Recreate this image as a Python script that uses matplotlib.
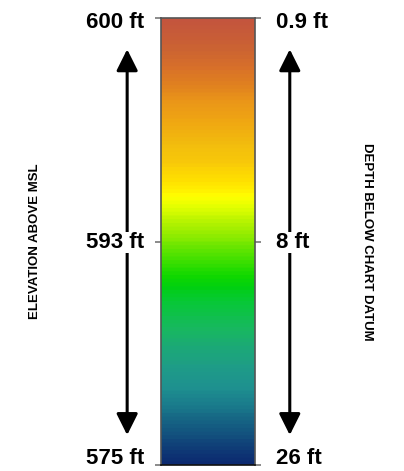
import numpy as np
import matplotlib.pyplot as plt
from matplotlib.colors import LinearSegmentedColormap, ListedColormap

plt.rcParams['font.family'] = ['Liberation Sans', 'DejaVu Sans']
plt.rcParams['font.weight'] = 'bold'

# labels on each side of the scale (bottom, middle, top)
tick_pos = [0.0, 0.5, 1.0]
elevation_labels = ["575 ft", "593 ft", "600 ft"]
depth_labels = ["26 ft", "8 ft", "0.9 ft"]
label_shift = [7, -1, -4]  # vertical nudge of the labels, pixels

# colour stops of the scale, bottom -> top
stop_pos = [0.000, 0.018, 0.056, 0.094, 0.130, 0.168, 0.213, 0.257,
            0.302, 0.362, 0.398, 0.421, 0.459, 0.497, 0.532, 0.577,
            0.600, 0.638, 0.682, 0.723, 0.767, 0.812, 0.857, 0.895,
            0.933, 1.000]
stop_col = ["#0c2a70", "#0e3474", "#124c7c", "#166484", "#1a7c8c",
            "#1e9090", "#1f9c88", "#1ca878", "#18b860", "#08c838",
            "#00d010", "#10d800", "#40e000", "#78e800", "#a8f000",
            "#e0ff00", "#ffff00", "#ffe000", "#f8c80a", "#f2bc0e",
            "#f0a812", "#eb9818", "#e08020", "#d8702a", "#cc6432",
            "#c4553e"]

smooth = LinearSegmentedColormap.from_list("scale", list(zip(stop_pos, stop_col)))
cmap = ListedColormap(smooth(np.linspace(0, 1, 120)))

W, H = 404, 471
fig = plt.figure(figsize=(W / 100, H / 100), dpi=100)
ax = fig.add_axes([161 / W, 6 / H, 94 / W, 447 / H])

grad = np.linspace(0, 1, 600).reshape(-1, 1)
ax.imshow(grad, cmap=cmap, aspect='auto', origin='lower',
          extent=[0, 1, 0, 1], zorder=0)
ax.set_xlim(0, 1)
ax.set_ylim(0, 1)
ax.set_xticks([])

for s in ['left', 'right', 'top']:
    ax.spines[s].set_color('#555555')
    ax.spines[s].set_linewidth(1.2)
ax.spines['bottom'].set_color('#111111')
ax.spines['bottom'].set_linewidth(1.2)

ax.set_yticks(tick_pos)
ax.tick_params(axis='y', left=True, right=True, labelleft=False,
               length=4.5, width=1.2, color='#777777')

box = dict(facecolor='white', edgecolor='none', pad=0.3)
for p, lab, dy in zip(tick_pos, elevation_labels, label_shift):
    ax.annotate(lab, xy=(0, p), xycoords='axes fraction',
                xytext=(-17, dy), textcoords='offset pixels',
                ha='right', va='center', fontsize=16, fontweight='bold',
                bbox=box, zorder=3, annotation_clip=False)
for p, lab, dy in zip(tick_pos, depth_labels, label_shift):
    ax.annotate(lab, xy=(1, p), xycoords='axes fraction',
                xytext=(21, dy), textcoords='offset pixels',
                ha='left', va='center', fontsize=16, fontweight='bold',
                bbox=box, zorder=3, annotation_clip=False)

# double-headed arrows beside the scale
for xa in [-0.36, 1.37]:
    ax.annotate("", xy=(xa, 0.067), xytext=(xa, 0.930),
                xycoords='axes fraction', textcoords='axes fraction',
                arrowprops=dict(arrowstyle='<|-|>,head_length=1.3,head_width=0.65',
                                color='black', lw=2.2, shrinkA=0, shrinkB=0),
                annotation_clip=False, zorder=1)

fig.text(35 / W, 1 - 241 / H, "ELEVATION ABOVE MSL", rotation=90,
         ha='center', va='center', fontsize=9.5, fontweight='bold')
fig.text(367 / W, 1 - 242 / H, "DEPTH BELOW CHART DATUM", rotation=-90,
         ha='center', va='center', fontsize=9.5, fontweight='bold')

fig.savefig("out.png", dpi=100)
